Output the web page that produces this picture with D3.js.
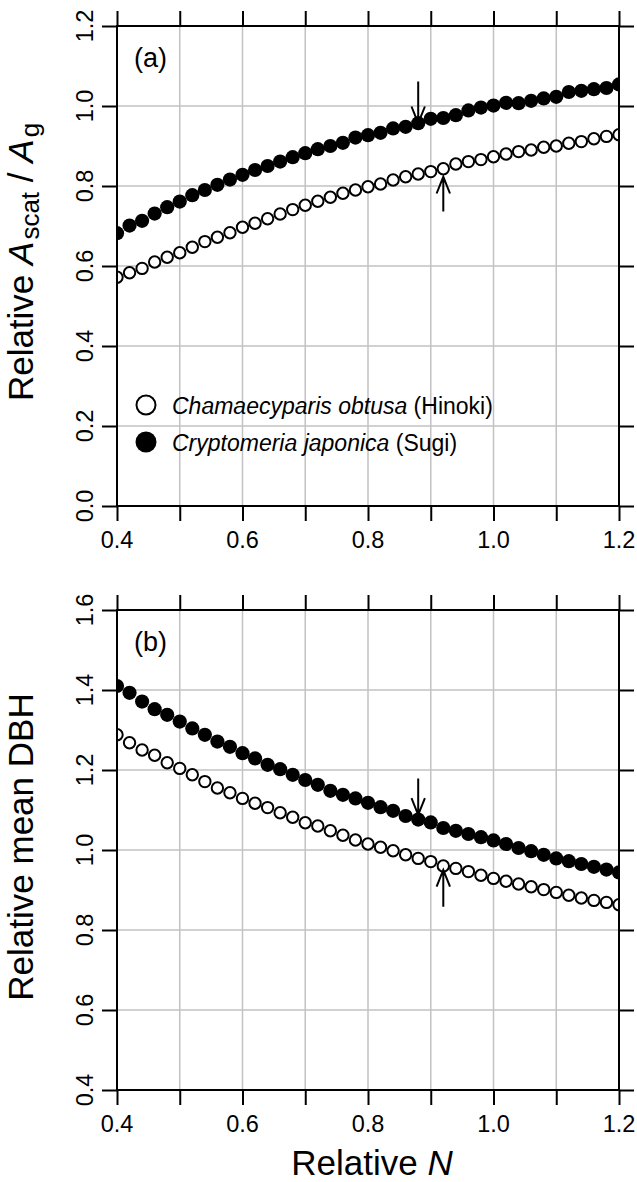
<!DOCTYPE html>
<html lang="en">
<head>
  <meta charset="UTF-8" />
  <title>Relative N panels</title>
  <script src="https://d3js.org/d3.v7.min.js"></script>
  <style>
    html, body {
      margin: 0;
      padding: 0;
      background: #fff;
    }
    svg {
      display: block;
      font-family: "Liberation Sans", Arial, sans-serif;
    }
    .grid line { stroke: #c2c2c2; stroke-width: 1.5; }
    .frame { fill: none; stroke: #000; stroke-width: 2; }
  </style>
</head>
<body>
<svg width="637" height="1182"></svg>

<script>
// relative stand density (x), one point every 0.02
const relN = [0.40, 0.42, 0.44, 0.46, 0.48, 0.50, 0.52, 0.54, 0.56, 0.58,
              0.60, 0.62, 0.64, 0.66, 0.68, 0.70, 0.72, 0.74, 0.76, 0.78,
              0.80, 0.82, 0.84, 0.86, 0.88, 0.90, 0.92, 0.94, 0.96, 0.98,
              1.00, 1.02, 1.04, 1.06, 1.08, 1.10, 1.12, 1.14, 1.16, 1.18, 1.20];

// (a) relative Ascat / Ag
const ascatHinoki = [0.572, 0.583, 0.594, 0.610, 0.622, 0.633, 0.647, 0.661, 0.672, 0.683,
                     0.697, 0.707, 0.718, 0.730, 0.741, 0.752, 0.762, 0.772, 0.782, 0.790,
                     0.798, 0.805, 0.815, 0.823, 0.830, 0.836, 0.843, 0.855, 0.861, 0.866,
                     0.873, 0.880, 0.886, 0.890, 0.897, 0.900, 0.907, 0.911, 0.918, 0.924, 0.928];
const ascatSugi   = [0.682, 0.701, 0.713, 0.731, 0.747, 0.761, 0.777, 0.790, 0.803, 0.816,
                     0.828, 0.840, 0.850, 0.861, 0.872, 0.882, 0.892, 0.900, 0.908, 0.921,
                     0.927, 0.933, 0.944, 0.948, 0.957, 0.968, 0.970, 0.977, 0.989, 0.996,
                     1.001, 1.008, 1.007, 1.013, 1.019, 1.023, 1.035, 1.038, 1.042, 1.045, 1.054];

// (b) relative mean DBH
const dbhHinoki = [1.288, 1.268, 1.250, 1.237, 1.218, 1.204, 1.188, 1.171, 1.155, 1.143,
                   1.129, 1.117, 1.106, 1.093, 1.082, 1.068, 1.060, 1.048, 1.037, 1.025,
                   1.015, 1.007, 0.998, 0.988, 0.979, 0.971, 0.960, 0.954, 0.946, 0.937,
                   0.929, 0.922, 0.915, 0.908, 0.901, 0.894, 0.887, 0.880, 0.874, 0.869, 0.863];
const dbhSugi   = [1.410, 1.393, 1.371, 1.352, 1.338, 1.321, 1.304, 1.288, 1.271, 1.258,
                   1.242, 1.229, 1.213, 1.202, 1.188, 1.175, 1.163, 1.148, 1.138, 1.129,
                   1.118, 1.107, 1.098, 1.085, 1.076, 1.069, 1.055, 1.048, 1.040, 1.032,
                   1.024, 1.015, 1.005, 0.997, 0.988, 0.979, 0.972, 0.965, 0.958, 0.951, 0.944];

// arrows: x position, tail value, tip value
const arrowsA = [{x: 0.88, from: 1.061, to: 0.957}, {x: 0.92, from: 0.736, to: 0.823}];
const arrowsB = [{x: 0.88, from: 1.179, to: 1.088}, {x: 0.92, from: 0.858, to: 0.950}];

const xTicks = [0.4, 0.5, 0.6, 0.7, 0.8, 0.9, 1.0, 1.1, 1.2];
const xLabels = [0.4, 0.6, 0.8, 1.0, 1.2];
const yTicksA = [0.0, 0.2, 0.4, 0.6, 0.8, 1.0, 1.2];
const yTicksB = [0.4, 0.6, 0.8, 1.0, 1.2, 1.4, 1.6];

const svg = d3.select("svg");
const left = 117, right = 619;
const x = d3.scaleLinear().domain([0.4, 1.2]).range([left, right]);
const fmt = d3.format(".1f");
const tickLen = 15;

drawPanel({
  id: "a", top: 26, bottom: 506, domain: [0, 1.2], yTicks: yTicksA,
  hinoki: ascatHinoki, sugi: ascatSugi, arrows: arrowsA, legend: true
});
drawPanel({
  id: "b", top: 610, bottom: 1090, domain: [0.4, 1.6], yTicks: yTicksB,
  hinoki: dbhHinoki, sugi: dbhSugi, arrows: arrowsB, legend: false
});

// y titles
const titleA = svg.append("text")
  .attr("transform", `translate(33,262) rotate(-90)`)
  .attr("text-anchor", "middle")
  .attr("font-size", 35);
titleA.append("tspan").text("Relative ");
titleA.append("tspan").attr("font-style", "italic").text("A");
titleA.append("tspan").attr("font-size", 26).attr("dx", 2).attr("dy", 6).text("scat");
titleA.append("tspan").attr("dy", -6).text(" / ");
titleA.append("tspan").attr("font-style", "italic").text("A");
titleA.append("tspan").attr("font-size", 26).attr("dx", 2).attr("dy", 6).text("g");

svg.append("text")
  .attr("transform", `translate(33,847) rotate(-90)`)
  .attr("text-anchor", "middle")
  .attr("font-size", 35)
  .text("Relative mean DBH");

// x title
const xt = svg.append("text")
  .attr("x", 372)
  .attr("y", 1175)
  .attr("text-anchor", "middle")
  .attr("font-size", 35);
xt.append("tspan").text("Relative ");
xt.append("tspan").attr("font-style", "italic").text("N");

function drawPanel(p) {
  const y = d3.scaleLinear().domain(p.domain).range([p.bottom, p.top]);
  const g = svg.append("g");

  // grid
  const grid = g.append("g").attr("class", "grid");
  grid.selectAll(".gx").data(xTicks.slice(1, -1)).join("line")
    .attr("x1", d => x(d)).attr("x2", d => x(d))
    .attr("y1", p.top).attr("y2", p.bottom);
  grid.selectAll(".gy").data(p.yTicks.slice(1, -1)).join("line")
    .attr("class", "gy")
    .attr("x1", left).attr("x2", right)
    .attr("y1", d => y(d)).attr("y2", d => y(d));

  // points, clipped to the plot region
  g.append("clipPath").attr("id", "clip-" + p.id)
    .append("rect")
    .attr("x", left).attr("y", p.top)
    .attr("width", right - left).attr("height", p.bottom - p.top);

  const pts = g.append("g").attr("clip-path", `url(#clip-${p.id})`);
  pts.selectAll(".sugi").data(p.sugi).join("circle")
    .attr("class", "sugi")
    .attr("cx", (d, i) => x(relN[i]))
    .attr("cy", d => y(d))
    .attr("r", 7.1)
    .attr("fill", "#000");
  pts.selectAll(".hinoki").data(p.hinoki).join("circle")
    .attr("class", "hinoki")
    .attr("cx", (d, i) => x(relN[i]))
    .attr("cy", d => y(d))
    .attr("r", 5.7)
    .attr("fill", "#fff")
    .attr("stroke", "#000")
    .attr("stroke-width", 2);

  // arrows
  p.arrows.forEach(a => {
    const ax = x(a.x), y0 = y(a.from), y1 = y(a.to);
    const dir = y1 > y0 ? 1 : -1;
    g.append("path")
      .attr("d", `M${ax},${y0}L${ax},${y1}M${ax - 6.7},${y1 - dir * 16.7}L${ax},${y1}L${ax + 6.7},${y1 - dir * 16.7}`)
      .attr("fill", "none")
      .attr("stroke", "#000")
      .attr("stroke-width", 2);
  });

  // frame and outward ticks on all four sides
  g.append("rect").attr("class", "frame")
    .attr("x", left).attr("y", p.top)
    .attr("width", right - left).attr("height", p.bottom - p.top);

  const axes = [
    d3.axisBottom(x).tickValues(xTicks),
    d3.axisTop(x).tickValues(xTicks),
    d3.axisLeft(y).tickValues(p.yTicks),
    d3.axisRight(y).tickValues(p.yTicks)
  ];
  const shifts = [`0,${p.bottom}`, `0,${p.top}`, `${left},0`, `${right},0`];
  axes.forEach((ax, i) => {
    const a = g.append("g")
      .attr("transform", `translate(${shifts[i]})`)
      .call(ax.tickSize(tickLen).tickFormat(""));
    a.select(".domain").remove();
    a.selectAll(".tick line").attr("stroke", "#000").attr("stroke-width", 2);
  });

  // tick labels
  g.selectAll(".xl").data(xLabels).join("text")
    .attr("x", d => x(d))
    .attr("y", p.bottom + 42)
    .attr("text-anchor", "middle")
    .attr("font-size", 23.5)
    .text(d => fmt(d));
  g.selectAll(".yl").data(p.yTicks).join("text")
    .attr("class", "yl")
    .attr("transform", d => `translate(93,${y(d)}) rotate(-90)`)
    .attr("text-anchor", "middle")
    .attr("font-size", 23.5)
    .text(d => fmt(d));

  // panel letter
  g.append("text")
    .attr("x", 134)
    .attr("y", p.top + 41)
    .attr("font-size", 27)
    .text(`(${p.id})`);

  if (p.legend) {
    const items = [
      {genus: "Chamaecyparis obtusa", common: " (Hinoki)", filled: false},
      {genus: "Cryptomeria japonica", common: " (Sugi)", filled: true}
    ];
    const lg = g.selectAll(".lg").data(items).join("g")
      .attr("transform", (d, i) => `translate(146,${405 + i * 37})`);
    lg.append("circle")
      .attr("r", d => d.filled ? 10.5 : 9.5)
      .attr("fill", d => d.filled ? "#000" : "#fff")
      .attr("stroke", "#000")
      .attr("stroke-width", d => d.filled ? 0 : 2);
    const t = lg.append("text")
      .attr("x", 26)
      .attr("y", 9)
      .attr("font-size", 23);
    t.append("tspan").attr("font-style", "italic").text(d => d.genus);
    t.append("tspan").text(d => d.common);
  }
}
</script>
</body>
</html>
